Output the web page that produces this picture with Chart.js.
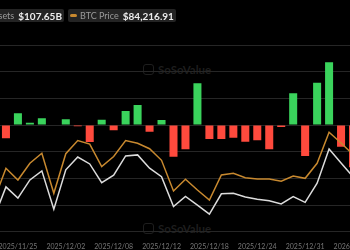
<!DOCTYPE html>
<html>
<head>
<meta charset="utf-8">
<script src="https://cdn.jsdelivr.net/npm/chart.js@4"></script>
<style>
  html, body { margin: 0; padding: 0; background: #000; }
  body { width: 350px; height: 250px; overflow: hidden; position: relative; font-family: Lato, sans-serif; }
  #wrap { position: absolute; left: -12px; top: 0; width: 371px; height: 250px; z-index: 2; }
  .legend { position: absolute; top: 9px; height: 13px; background: #242424; border-radius: 2px;
            display: flex; align-items: center; white-space: nowrap; z-index: 3; padding: 0 2px; }
  .legend .lab { color: #9a9a9a; font-size: 9px; margin-right: 4px; }
  .legend .val { color: #ececec; font-size: 10px; font-weight: bold; }
  .legend .ico { width: 7px; height: 3px; border-radius: 2px; margin-right: 3px; }
  .mark { position: absolute; left: 143px; color: #1e1e1e; font-size: 11.5px; font-weight: bold; z-index: 1;
          display: flex; align-items: center; }
  .mark .hex { width: 9px; height: 9px; border: 1.5px solid #1e1e1e; border-radius: 3px; margin-right: 4px; }
</style>
</head>
<body>
<div class="legend" style="right: 286px;"><span class="ico" style="background:#dcdcdc"></span><span class="lab">Total Net Assets</span><span class="val">$107.65B</span></div>
<div class="legend" style="left: 68px;"><span class="ico" style="background:#c8892f"></span><span class="lab">BTC Price</span><span class="val">$84,216.91</span></div>
<div class="mark" style="top: 63px;"><span class="hex"></span>SoSoValue</div>
<div class="mark" style="top: 222px;"><span class="hex"></span>SoSoValue</div>
<div id="wrap"><canvas id="chart"></canvas></div>
<script>
const dates = [
    "2025/11/21", "2025/11/24", "2025/11/25", "2025/11/26", "2025/11/28", "2025/12/01",
    "2025/12/02", "2025/12/03", "2025/12/04", "2025/12/05", "2025/12/08", "2025/12/09",
    "2025/12/10", "2025/12/11", "2025/12/12", "2025/12/15", "2025/12/16", "2025/12/17",
    "2025/12/18", "2025/12/19", "2025/12/22", "2025/12/23", "2025/12/24", "2025/12/26",
    "2025/12/29", "2025/12/30", "2025/12/31", "2026/01/02", "2026/01/05", "2026/01/06",
    "2026/01/07"
];

// daily total net inflow, $M
const netInflow = [
    null, -150, 132, 26, 75, 5, 64, -15, -191, 60, -60, 158,
    225, -75, 56, -357, -273, 469, -158, -158, -143, -188, -172, -273,
    -22, 356, -349, 476, 705, -244, -475
];

// total net assets, $B
const totalNetAssets = [
    102.6, 108.4, 106.3, 109.7, 111.4, 104.2, 111.6, 114.0, 112.7, 109.2, 110.6, 114.2,
    114.4, 111.9, 110.3, 104.7, 106.6, 105.0, 103.3, 107.1, 107.2, 106.5, 106.1, 105.8,
    105.2, 106.6, 105.5, 109.1, 115.5, 112.9, 110.3
];

// BTC price, $
const btcPrice = [
    85250, 89490, 87920, 90160, 91500, 86140, 91450, 93210, 92740, 89730, 91070, 93210,
    92840, 92110, 90560, 86450, 88020, 86580, 85250, 88590, 88820, 88230, 88060, 88060,
    87750, 88460, 88150, 90160, 94310, 92880, 91340
];

const green = "#3ad35c";
const red = "#ff4a3d";

new Chart(document.getElementById("chart"), {
    type: "bar",
    data: {
        labels: dates,
        datasets: [
            {
                type: "line",
                label: "BTC Price",
                data: btcPrice,
                yAxisID: "yBtc",
                borderColor: "#c8892f",
                borderWidth: 1.5,
                pointRadius: 0,
                tension: 0,
                order: 1
            },
            {
                type: "line",
                label: "Total Net Assets",
                data: totalNetAssets,
                yAxisID: "yTna",
                borderColor: "#dcdcdc",
                borderWidth: 1.5,
                pointRadius: 0,
                tension: 0,
                order: 1
            },
            {
                label: "Daily Total Net Inflow",
                data: netInflow,
                yAxisID: "yFlow",
                backgroundColor: netInflow.map(v => v >= 0 ? green : red),
                categoryPercentage: 1,
                barPercentage: 0.67,
                order: 2
            }
        ]
    },
    options: {
        responsive: true,
        maintainAspectRatio: false,
        animation: false,
        layout: { padding: { top: 45, left: 0, right: 0, bottom: 0 } },
        plugins: { legend: { display: false }, tooltip: { enabled: false } },
        scales: {
            x: {
                grid: { display: false },
                border: { display: false },
                ticks: {
                    autoSkip: false,
                    maxRotation: 0,
                    padding: 3,
                    color: "#777",
                    font: { family: "Lato", size: 7 },
                    callback: function (value, index) {
                        return (index - 2) % 4 === 0 ? dates[index] : "";
                    }
                },
                afterFit: function (scale) {
                    scale.height = 18.3;
                    scale.paddingLeft = 0;
                    scale.paddingRight = 0;
                }
            },
            yFlow: {
                position: "left",
                min: -1200,
                max: 900,
                ticks: { display: false, stepSize: 300 },
                grid: { color: "#262626", drawTicks: false },
                border: { display: false },
                afterFit: function (scale) { scale.width = 0; }
            },
            yTna: { display: false, min: 100, max: 135 },
            yBtc: { display: false, min: 81000, max: 106000 }
        }
    }
});
</script>
</body>
</html>
